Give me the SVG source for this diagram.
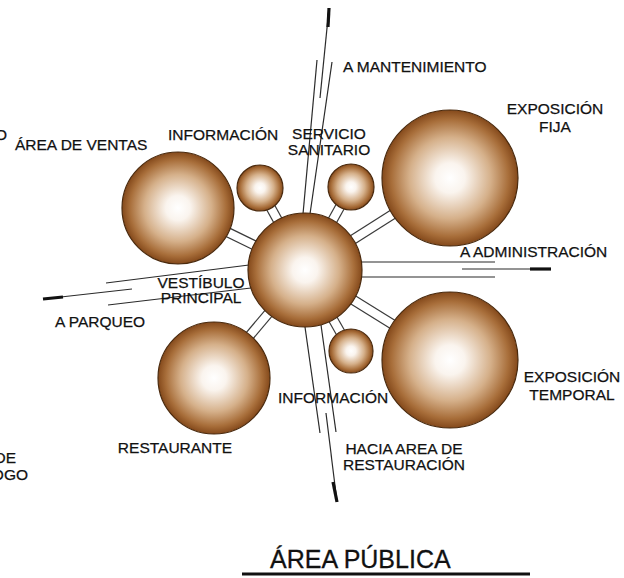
<svg xmlns="http://www.w3.org/2000/svg" width="624" height="578" viewBox="0 0 624 578">
<defs>
<radialGradient id="ball" cx="50%" cy="50%" r="50%">
<stop offset="0" stop-color="#ffffff"/>
<stop offset="0.22" stop-color="#faf4ee"/>
<stop offset="0.6" stop-color="#d5b08a"/>
<stop offset="0.86" stop-color="#a86e3a"/>
<stop offset="1" stop-color="#84491b"/>
</radialGradient>
<style>
.node circle{fill:url(#ball);stroke:#4a2a0e;stroke-width:1.2}
.pipe-o{stroke:#3a3a3a;stroke-width:10.4;fill:none}
.pipe-i{stroke:#ffffff;stroke-width:8;fill:none}
.ln{stroke:#2a2a2a;stroke-width:1.2;fill:none}
.tk{stroke:#111111;stroke-width:3.2;fill:none}
text{font-family:"Liberation Sans",Arial,sans-serif;font-size:15.5px;fill:#111111;stroke:#111111;stroke-width:0.25}
.mid{text-anchor:middle}
.end{text-anchor:end}
</style>
</defs>
<rect width="624" height="578" fill="#ffffff"/>
<g id="connectors">
<line class="pipe-o" x1="305" y1="270" x2="178" y2="208"/>
<line class="pipe-o" x1="305" y1="270" x2="260" y2="188"/>
<line class="pipe-o" x1="305" y1="270" x2="351" y2="187"/>
<line class="pipe-o" x1="305" y1="270" x2="450" y2="178"/>
<line class="pipe-o" x1="305" y1="270" x2="450" y2="360"/>
<line class="pipe-o" x1="305" y1="270" x2="351" y2="351"/>
<line class="pipe-o" x1="305" y1="270" x2="214" y2="378"/>
<line class="pipe-i" x1="305" y1="270" x2="178" y2="208"/>
<line class="pipe-i" x1="305" y1="270" x2="260" y2="188"/>
<line class="pipe-i" x1="305" y1="270" x2="351" y2="187"/>
<line class="pipe-i" x1="305" y1="270" x2="450" y2="178"/>
<line class="pipe-i" x1="305" y1="270" x2="450" y2="360"/>
<line class="pipe-i" x1="305" y1="270" x2="351" y2="351"/>
<line class="pipe-i" x1="305" y1="270" x2="214" y2="378"/>
<line class="ln" x1="317" y1="60" x2="303" y2="214"/>
<line class="ln" x1="332" y1="62" x2="310" y2="214"/>
<line class="ln" x1="329" y1="8" x2="320" y2="98"/>
<line class="tk" x1="329" y1="8" x2="328" y2="27"/>
<line class="ln" x1="305" y1="327" x2="320" y2="433"/>
<line class="ln" x1="321" y1="325" x2="336" y2="432"/>
<line class="ln" x1="326" y1="413" x2="337" y2="502"/>
<line class="tk" x1="333" y1="482" x2="337" y2="502"/>
<line class="ln" x1="106" y1="283" x2="249" y2="265"/>
<line class="ln" x1="43" y1="299" x2="132" y2="289"/>
<line class="tk" x1="43" y1="299" x2="63" y2="297"/>
<line class="ln" x1="108" y1="305" x2="251" y2="288"/>
<line class="ln" x1="361" y1="262" x2="495" y2="262"/>
<line class="ln" x1="462" y1="269" x2="532" y2="269"/>
<line class="tk" x1="530" y1="269" x2="551" y2="269"/>
<line class="ln" x1="361" y1="277" x2="495" y2="277"/>
</g>
<g id="vestibulo" class="node"><circle cx="305" cy="270" r="57"/></g>
<g id="area-ventas" class="node"><circle cx="178" cy="208" r="56"/></g>
<g id="informacion-1" class="node"><circle cx="260" cy="188" r="23"/></g>
<g id="servicio-sanitario" class="node"><circle cx="351" cy="187" r="23"/></g>
<g id="exposicion-fija" class="node"><circle cx="450" cy="178" r="68"/></g>
<g id="exposicion-temporal" class="node"><circle cx="450" cy="360" r="68"/></g>
<g id="informacion-2" class="node"><circle cx="351" cy="351" r="22"/></g>
<g id="restaurante" class="node"><circle cx="214" cy="378" r="56"/></g>
<g id="labels">
<text class="end" x="7" y="140">O</text>
<text x="15" y="150">ÁREA DE VENTAS</text>
<text x="168" y="140">INFORMACIÓN</text>
<text class="mid" x="329" y="139">SERVICIO</text>
<text class="mid" x="329" y="155">SANITARIO</text>
<text x="343" y="72">A MANTENIMIENTO</text>
<text class="mid" x="555" y="114">EXPOSICIÓN</text>
<text class="mid" x="555" y="132">FIJA</text>
<text x="460" y="257">A ADMINISTRACIÓN</text>
<text class="mid" x="201" y="288">VESTÍBULO</text>
<text class="mid" x="201" y="303">PRINCIPAL</text>
<text x="55" y="327">A PARQUEO</text>
<text class="mid" x="572" y="382">EXPOSICIÓN</text>
<text class="mid" x="572" y="400">TEMPORAL</text>
<text x="278" y="403">INFORMACIÓN</text>
<text class="mid" x="175" y="453">RESTAURANTE</text>
<text class="mid" x="404" y="454">HACIA AREA DE</text>
<text class="mid" x="404" y="470">RESTAURACIÓN</text>
<text class="end" x="16" y="463">DE</text>
<text class="end" x="28" y="480">OGO</text>
</g>
<g id="title">
<text x="270" y="568" style="font-size:25px;stroke-width:0.3">ÁREA PÚBLICA</text>
<line x1="242" y1="574" x2="530" y2="574" stroke="#111111" stroke-width="3"/>
</g>
</svg>
